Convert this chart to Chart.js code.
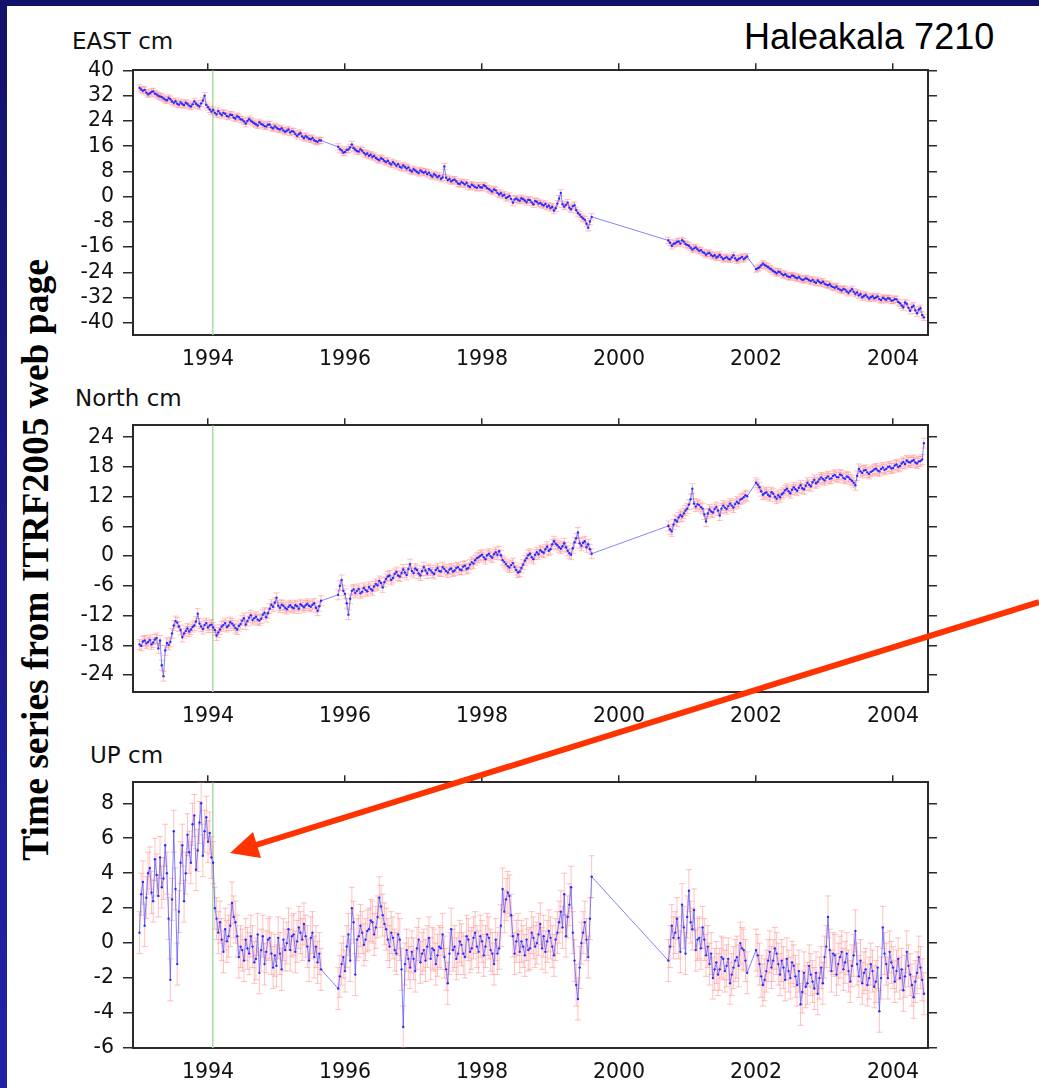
<!DOCTYPE html>
<html>
<head>
<meta charset="utf-8">
<script src="https://cdn.jsdelivr.net/npm/chart.js@4/dist/chart.umd.min.js"></script>
<style>
html,body{margin:0;padding:0;}
body{width:1039px;height:1088px;position:relative;overflow:hidden;background:linear-gradient(to bottom,#12126a,#2222a8);}
#panel{position:absolute;left:7px;top:6px;width:1032px;height:1082px;background:#fff;}
canvas{position:absolute;}
.ttl{position:absolute;font-family:"DejaVu Sans";font-size:23px;line-height:23px;color:#111;white-space:nowrap;}
#station{position:absolute;left:744px;top:19px;font-family:"Liberation Sans";font-size:36px;line-height:36px;color:#000;white-space:nowrap;}
#side{position:absolute;left:36px;top:560px;transform:translate(-50%,-50%) rotate(-90deg);font-family:"Liberation Serif";font-weight:bold;font-size:37.5px;line-height:37.5px;white-space:nowrap;color:#000;}
#arrow{position:absolute;left:0;top:0;}
#msg{position:absolute;left:300px;top:10px;color:red;font:14px sans-serif;}
</style>
</head>
<body>
<div id="panel"></div>
<div id="station">Haleakala 7210</div>
<div id="side">Time series from ITRF2005 web page</div>
<div class="ttl" style="left:72px;top:30px;">EAST cm</div>
<div class="ttl" style="left:75px;top:387px;">North cm</div>
<div class="ttl" style="left:90px;top:744px;">UP cm</div>
<canvas id="cEast" width="880" height="326" style="left:60px;top:49px;"></canvas>
<canvas id="cNorth" width="880" height="328" style="left:60px;top:404px;"></canvas>
<canvas id="cUp" width="880" height="327" style="left:60px;top:761px;"></canvas>
<svg id="arrow" width="1039" height="1088">
  <line x1="1039" y1="602" x2="256" y2="845" stroke="#ff3300" stroke-width="6"/>
  <polygon points="230,853 253,832 261,858" fill="#ff3300"/>
</svg>
<div id="msg"></div>
<script>
// ---- epochs (decimal years), shared by all three components ----
const times = [
1993,1993.025,1993.05,1993.075,1993.1,1993.125,1993.15,1993.175,1993.2,1993.225,
1993.25,1993.275,1993.3,1993.325,1993.35,1993.375,1993.4,1993.425,1993.45,1993.475,
1993.5,1993.525,1993.55,1993.575,1993.6,1993.625,1993.65,1993.675,1993.7,1993.725,
1993.75,1993.775,1993.8,1993.825,1993.85,1993.875,1993.9,1993.925,1993.95,1993.975,
1994,1994.025,1994.05,1994.075,1994.1,1994.125,1994.15,1994.175,1994.2,1994.225,
1994.25,1994.275,1994.3,1994.325,1994.35,1994.375,1994.4,1994.425,1994.45,1994.475,
1994.5,1994.525,1994.55,1994.575,1994.6,1994.625,1994.65,1994.675,1994.7,1994.725,
1994.75,1994.775,1994.8,1994.825,1994.85,1994.875,1994.9,1994.925,1994.95,1994.975,
1995,1995.025,1995.05,1995.075,1995.1,1995.125,1995.15,1995.175,1995.2,1995.225,
1995.25,1995.275,1995.3,1995.325,1995.35,1995.375,1995.4,1995.425,1995.45,1995.475,
1995.5,1995.525,1995.55,1995.575,1995.6,1995.625,1995.65,
1995.9,1995.925,1995.95,1995.975,
1996,1996.025,1996.05,1996.075,1996.1,1996.125,1996.15,1996.175,1996.2,1996.225,
1996.25,1996.275,1996.3,1996.325,1996.35,1996.375,1996.4,1996.425,1996.45,1996.475,
1996.5,1996.525,1996.55,1996.575,1996.6,1996.625,1996.65,1996.675,1996.7,1996.725,
1996.75,1996.775,1996.8,1996.825,1996.85,1996.875,1996.9,1996.925,1996.95,1996.975,
1997,1997.025,1997.05,1997.075,1997.1,1997.125,1997.15,1997.175,1997.2,1997.225,
1997.25,1997.275,1997.3,1997.325,1997.35,1997.375,1997.4,1997.425,1997.45,1997.475,
1997.5,1997.525,1997.55,1997.575,1997.6,1997.625,1997.65,1997.675,1997.7,1997.725,
1997.75,1997.775,1997.8,1997.825,1997.85,1997.875,1997.9,1997.925,1997.95,1997.975,
1998,1998.025,1998.05,1998.075,1998.1,1998.125,1998.15,1998.175,1998.2,1998.225,
1998.25,1998.275,1998.3,1998.325,1998.35,1998.375,1998.4,1998.425,1998.45,1998.475,
1998.5,1998.525,1998.55,1998.575,1998.6,1998.625,1998.65,1998.675,1998.7,1998.725,
1998.75,1998.775,1998.8,1998.825,1998.85,1998.875,1998.9,1998.925,1998.95,1998.975,
1999,1999.025,1999.05,1999.075,1999.1,1999.125,1999.15,1999.175,1999.2,1999.225,
1999.25,1999.275,1999.3,1999.325,1999.35,1999.375,1999.4,1999.425,1999.45,1999.475,
1999.5,1999.525,1999.55,1999.575,1999.6,
2000.72,2000.745,2000.77,2000.795,2000.82,2000.845,2000.87,2000.895,2000.92,2000.945,
2000.97,2000.995,2001.02,2001.045,2001.07,2001.095,2001.12,2001.145,2001.17,2001.195,
2001.22,2001.245,2001.27,2001.295,2001.32,2001.345,2001.37,2001.395,2001.42,2001.445,
2001.47,2001.495,2001.52,2001.545,2001.57,2001.595,2001.62,2001.645,2001.67,2001.695,
2001.72,2001.745,2001.77,2001.795,2001.82,2001.845,2001.87,
2002,2002.025,2002.05,2002.075,2002.1,2002.125,2002.15,2002.175,2002.2,2002.225,
2002.25,2002.275,2002.3,2002.325,2002.35,2002.375,2002.4,2002.425,2002.45,2002.475,
2002.5,2002.525,2002.55,2002.575,2002.6,2002.625,2002.65,2002.675,2002.7,2002.725,
2002.75,2002.775,2002.8,2002.825,2002.85,2002.875,2002.9,2002.925,2002.95,2002.975,
2003,2003.025,2003.05,2003.075,2003.1,2003.125,2003.15,2003.175,2003.2,2003.225,
2003.25,2003.275,2003.3,2003.325,2003.35,2003.375,2003.4,2003.425,2003.45,2003.475,
2003.5,2003.525,2003.55,2003.575,2003.6,2003.625,2003.65,2003.675,2003.7,2003.725,
2003.75,2003.775,2003.8,2003.825,2003.85,2003.875,2003.9,2003.925,2003.95,2003.975,
2004,2004.025,2004.05,2004.075,2004.1,2004.125,2004.15,2004.175,2004.2,2004.225,
2004.25,2004.275,2004.3,2004.325,2004.35,2004.375,2004.4,2004.425,2004.45
];

// ---- EAST component, cm ----
const eastCm = [
34.5,34.0,33.6,33.9,33.0,32.5,32.8,33.2,33.4,32.7,32.4,32.0,31.8,31.6,31.2,30.8,30.6,31.3,30.9,30.2,
29.8,30.3,29.5,29.2,29.9,29.4,29.1,29.8,29.4,28.9,28.6,29.3,30.2,29.5,29.0,28.6,29.6,30.5,32.0,29.1,
28.4,27.7,27.0,27.5,26.6,26.1,27.2,26.4,25.9,26.6,26.3,25.6,25.4,26.0,25.9,25.1,24.8,25.5,25.2,24.6,
24.4,23.9,23.2,24.0,24.6,24.1,23.7,23.3,23.0,22.6,23.6,23.1,22.8,22.4,22.3,22.8,22.9,22.0,21.7,22.3,
21.9,21.5,21.3,21.7,21.0,20.6,20.9,21.3,20.4,20.8,20.6,19.9,19.3,19.8,20.2,19.1,18.6,19.2,18.8,18.4,
18.2,18.6,17.9,17.6,17.4,17.9,17.8,
15.8,15.1,14.7,14.0,14.2,14.8,15.0,15.6,16.6,15.4,14.9,14.5,14.3,15.0,14.6,13.9,13.4,13.7,13.0,13.3,
12.6,12.9,12.3,11.9,11.6,12.2,11.9,11.3,11.0,11.4,10.6,10.2,10.9,10.4,9.8,10.3,9.5,9.2,9.9,9.4,
8.9,9.3,8.4,8.0,8.7,8.3,7.9,7.5,8.3,7.9,7.6,7.9,7.2,7.6,6.8,6.4,7.1,6.7,6.2,6.6,
5.7,6.1,9.6,6.0,5.3,5.6,4.9,5.2,5.4,4.8,4.2,4.0,4.6,4.3,3.9,4.4,3.4,3.1,3.8,3.5,
3.1,2.8,3.5,3.0,2.9,3.6,3.3,2.7,2.4,2.0,1.6,2.3,2.0,1.2,0.7,1.1,0.3,0.6,-0.4,-0.1,
0.2,-0.7,-1.9,-0.9,-0.6,-1.0,-1.3,-0.5,-0.8,-1.2,-1.7,-1.0,-1.1,-1.8,-2.4,-1.4,-1.6,-2.2,-2.0,-2.5,
-2.8,-2.3,-3.2,-2.9,-3.6,-3.2,-4.4,-3.7,-2.2,-0.6,1.2,-2.4,-3.1,-2.6,-1.9,-3.5,-4.0,-3.0,-2.7,-4.3,
-5.2,-5.7,-6.4,-6.9,-7.3,-8.6,-9.9,-7.9,-6.4,
-13.9,-14.6,-15.6,-15.0,-14.8,-14.4,-14.2,-14.9,-13.8,-14.3,-15.0,-15.3,-15.6,-16.2,-16.8,-16.4,-16.1,-16.7,-17.2,-17.0,
-17.6,-17.9,-18.4,-18.0,-17.9,-18.5,-18.9,-18.6,-19.3,-19.0,-18.5,-19.2,-19.8,-19.5,-19.2,-19.7,-19.9,-19.3,-18.6,-19.6,
-20.2,-19.8,-19.5,-19.1,-19.8,-19.4,-19.0,
-23.0,-22.7,-22.4,-21.8,-21.3,-21.7,-22.0,-22.3,-22.8,-23.1,-23.6,-23.9,-24.3,-23.8,-24.0,-24.5,-24.9,-24.6,-25.1,-25.4,
-25.5,-25.0,-25.2,-25.6,-25.9,-25.5,-26.0,-26.4,-26.3,-25.9,-26.1,-26.5,-26.8,-26.4,-27.0,-27.3,-26.6,-27.1,-27.4,-27.0,
-27.6,-27.9,-28.1,-27.8,-28.4,-28.7,-28.9,-28.5,-29.2,-29.5,-29.8,-29.3,-29.5,-30.1,-30.5,-29.9,-29.4,-30.2,-30.8,-30.4,
-31.3,-30.9,-31.9,-31.5,-31.2,-31.8,-32.3,-31.9,-31.6,-32.2,-32.0,-31.7,-32.5,-32.8,-32.1,-32.4,-32.7,-32.2,-32.4,-33.0,
-32.9,-32.5,-32.6,-33.4,-33.8,-34.5,-35.1,-33.6,-34.0,-35.3,-36.2,-35.0,-34.6,-36.1,-37.0,-35.8,-35.4,-37.6,-38.3
];

// ---- North component, cm ----
const northCm = [
-17.8,-18.1,-17.2,-17.0,-17.6,-17.3,-16.9,-17.8,-17.4,-16.8,-16.5,-18.6,-17.0,-22.0,-24.2,-19.0,-17.5,-17.9,-17.3,-15.6,
-14.0,-13.1,-13.4,-14.2,-14.9,-16.3,-15.6,-15.1,-14.6,-15.2,-14.8,-14.3,-14.0,-13.2,-11.6,-13.6,-14.2,-14.7,-13.9,-13.5,
-14.4,-14.0,-13.8,-14.4,-14.9,-16.0,-15.4,-14.8,-14.2,-13.9,-13.5,-14.3,-14.0,-13.3,-13.6,-14.0,-14.5,-14.8,-14.1,-13.7,
-13.0,-12.5,-13.8,-13.1,-12.4,-11.9,-12.9,-12.5,-12.2,-12.8,-13.0,-12.6,-11.8,-11.4,-12.3,-11.5,-10.6,-9.8,-10.2,-9.4,
-8.4,-10.0,-10.4,-9.8,-10.0,-10.4,-10.7,-10.2,-9.9,-10.3,-10.5,-9.9,-10.1,-10.6,-9.7,-10.0,-10.3,-9.9,-9.6,-10.0,
-10.2,-9.8,-9.5,-10.4,-11.0,-10.1,-9.0,
-7.8,-6.0,-4.8,-7.0,-7.6,-9.5,-11.8,-8.6,-7.0,-6.7,-7.4,-7.0,-6.6,-7.5,-7.2,-6.4,-6.8,-7.1,-6.2,-6.6,
-6.9,-6.1,-5.6,-5.9,-5.0,-5.4,-6.3,-5.2,-4.6,-4.1,-3.9,-4.8,-4.4,-3.6,-3.2,-3.9,-4.1,-3.4,-2.7,-3.3,
-3.8,-2.6,-1.6,-3.0,-3.4,-2.5,-2.8,-3.5,-3.9,-3.0,-2.2,-2.9,-3.5,-2.6,-2.9,-3.3,-3.6,-2.8,-2.4,-3.0,
-3.1,-2.2,-2.6,-3.0,-3.3,-2.7,-2.5,-3.1,-2.9,-2.4,-2.2,-2.7,-2.8,-2.1,-1.9,-2.6,-2.4,-1.7,-1.2,-1.5,
-0.8,-0.4,-0.2,0.1,0.3,-0.2,-0.6,0.2,0.5,0.0,-0.3,0.4,0.8,0.3,1.0,0.2,-0.8,-1.2,-1.6,-2.0,
-2.3,-1.8,-1.4,-2.2,-2.8,-3.3,-3.1,-2.4,-1.7,-0.9,-0.4,0.2,0.5,-0.2,-0.6,0.3,0.8,0.4,1.2,0.9,
0.7,1.4,1.9,1.1,1.4,2.4,3.0,2.5,2.2,1.8,1.5,2.0,2.6,1.8,1.1,0.6,0.3,1.6,2.8,3.6,
4.8,2.6,2.1,2.7,3.0,1.8,2.4,1.4,0.5,
6.1,5.4,5.0,6.4,7.3,7.0,7.8,8.3,8.0,8.6,9.2,9.6,10.4,11.5,13.6,10.6,10.0,10.5,10.3,9.9,
9.6,8.4,7.0,8.6,9.4,9.0,8.8,9.5,9.9,9.2,8.2,9.6,10.2,9.8,9.5,10.1,10.6,10.2,9.8,10.5,
11.0,10.7,11.4,11.6,11.9,12.3,12.1,
14.8,14.4,13.9,13.1,12.4,12.7,12.9,12.4,12.1,12.9,12.6,12.0,11.6,12.3,11.9,12.5,12.8,13.3,13.6,13.1,
12.7,13.4,13.9,13.5,13.2,13.8,14.3,13.7,13.5,14.2,14.8,14.4,14.1,14.9,15.4,14.7,15.0,15.5,15.9,15.6,
15.3,15.8,16.1,15.6,15.7,16.2,16.4,16.0,15.9,16.5,16.3,15.8,15.6,16.1,15.9,15.5,15.2,14.8,14.3,16.2,
17.6,17.1,16.8,17.3,17.4,16.9,16.6,17.0,17.2,17.5,17.7,17.3,17.1,17.6,17.9,17.4,17.6,18.0,18.1,17.7,
17.8,18.3,18.5,18.0,18.2,18.7,19.0,18.6,19.3,19.0,18.9,19.2,19.4,18.9,18.7,19.1,19.2,19.5,22.8
];

// ---- UP component, cm ----
const upCm = [
0.6,2.8,3.5,1.0,2.6,4.0,4.3,2.9,2.4,4.8,3.9,2.7,4.9,3.2,3.7,5.6,4.0,1.4,-2.1,2.5,
6.4,3.1,-1.2,1.8,4.6,5.6,2.4,4.0,6.2,5.2,4.6,6.8,7.3,4.2,5.3,6.9,8.0,5.0,6.4,7.2,
5.8,6.3,4.9,4.6,2.0,1.4,0.6,1.2,0.2,-0.5,0.8,0.1,0.4,1.0,2.3,1.5,1.2,0.4,-0.8,-0.2,
-0.4,-1.0,0.2,-0.3,-0.6,0.4,-0.2,-1.1,-0.9,0.5,-1.7,-0.4,0.4,-1.2,-0.5,0.2,0.3,-0.6,-1.4,-0.7,
-1.3,0.3,-0.6,-1.5,0.2,-0.4,0.0,0.8,-0.4,0.4,0.5,-0.5,0.1,0.9,0.6,0.2,1.1,0.4,-0.2,-1.0,
0.3,0.6,-0.8,-0.2,-1.1,-0.6,-1.5,
-2.6,-1.9,-1.2,-0.8,-1.6,-0.2,0.5,-1.0,2.0,1.2,-1.8,0.2,0.4,1.0,0.6,-0.1,0.2,0.7,0.8,1.3,
1.2,0.5,0.9,1.5,2.6,2.1,1.6,1.1,0.8,0.2,-0.2,0.6,0.3,-0.4,-0.6,0.5,0.2,-1.5,-4.8,-1.2,
-0.4,-0.9,-1.4,-0.5,-0.9,-1.6,-0.3,0.2,-1.1,-0.6,-0.4,-1.0,-0.2,0.3,-0.9,-0.3,-0.4,-1.2,-0.7,-0.2,
-0.3,0.5,-0.8,-1.5,-2.3,-0.6,0.8,-0.4,-0.2,-0.9,-0.6,0.1,-0.1,-0.6,-0.8,0.4,0.2,-0.5,-0.3,0.3,
0.6,-0.2,-0.5,0.4,0.1,-0.7,-0.2,0.5,0.3,-0.4,-0.6,-1.2,0.2,-0.6,-0.3,1.0,3.1,1.8,2.5,2.9,
2.7,1.6,0.4,-0.6,0.1,0.5,-0.5,0.1,-0.2,-0.7,0.2,-0.4,-0.3,0.6,0.3,-0.2,0.0,0.5,1.1,-0.3,
0.4,-0.5,0.1,0.7,0.3,-0.2,-0.7,0.2,0.6,1.2,1.8,0.9,2.8,0.4,1.5,2.2,3.2,0.6,-1.0,-2.4,
-3.2,-1.4,0.0,0.6,1.2,0.2,-0.8,1.4,3.8,
-1.0,-0.2,1.0,0.3,0.6,1.4,0.3,-0.5,2.2,0.9,-0.6,1.5,3.0,1.2,0.8,1.9,-0.4,0.2,0.3,-0.3,
0.9,0.2,-0.7,-0.2,-1.2,-0.6,-2.0,-1.5,-1.1,-1.8,-1.5,-0.8,-0.9,-1.6,-1.3,-0.9,-2.3,-1.8,-1.4,-1.0,
-0.8,-1.3,0.0,-0.3,-0.4,-1.0,-1.7,
-0.4,-0.7,-1.2,-1.9,-2.4,-2.1,-1.6,-1.0,-0.5,-1.4,-1.0,-0.3,-0.6,-1.2,-1.8,-1.0,-1.4,-2.1,-0.9,-1.6,
-2.0,-1.1,-1.3,-1.9,-2.4,-1.6,-3.5,-2.8,-1.7,-2.5,-2.3,-1.3,-1.8,-2.2,-2.6,-1.7,-2.9,-2.0,-1.4,-2.3,
-0.8,-0.2,1.5,-0.4,-1.6,-0.6,-0.7,-1.8,-1.2,-0.8,-0.5,-1.5,-1.1,-0.6,-1.6,-2.2,-1.3,-0.7,0.7,-1.2,
-1.9,-1.0,-2.3,-1.7,-1.5,-2.4,-2.0,-1.2,-1.6,-2.5,-2.2,-1.4,-3.9,-2.0,0.9,-0.6,-1.2,-2.0,-0.5,-1.1,
-1.4,-2.2,-1.6,-0.9,-2.0,-1.5,-2.7,-1.9,-0.5,-1.3,-1.8,-2.4,-3.1,-2.2,-1.7,-0.8,-1.4,-2.1,-2.9
];

// ---- formal errors (1 sigma, cm) ----
const eastSigma = 1.0;
const northSigma = 1.0;
const upSigma = 1.2;

// ---- axes ----
const yearTicks = [1994, 1996, 1998, 2000, 2002, 2004];
const eastTicks = [-40, -32, -24, -16, -8, 0, 8, 16, 24, 32, 40];
const northTicks = [-24, -18, -12, -6, 0, 6, 12, 18, 24];
const upTicks = [-6, -4, -2, 0, 2, 4, 6, 8];
const markerYear = 1994.07;

const X_MIN = 1992.905, X_MAX = 2004.51;

const msgs = [];
[['eastCm', eastCm], ['northCm', northCm], ['upCm', upCm]].forEach(([n, a]) => {
  if (a.length !== times.length) msgs.push(n + ' ' + a.length + ' vs ' + times.length);
});
document.getElementById('msg').textContent = msgs.join(' | ');

const tickFont = { family: 'DejaVu Sans', size: 20.5 };
const AXIS = '#2a2a2a';

const errPlugin = {
  id: 'errbars',
  beforeDatasetsDraw(chart) {
    const { ctx, chartArea: a, scales: { x, y } } = chart;
    ctx.save();
    ctx.beginPath();
    ctx.rect(a.left, a.top, a.right - a.left, a.bottom - a.top);
    ctx.clip();
    const gx = x.getPixelForValue(markerYear);
    ctx.strokeStyle = '#a9dca9';
    ctx.lineWidth = 1.5;
    ctx.beginPath(); ctx.moveTo(gx, a.top); ctx.lineTo(gx, a.bottom); ctx.stroke();
    chart.data.datasets.forEach(ds => {
      ctx.strokeStyle = 'rgba(255,110,110,0.42)';
      ctx.lineWidth = 1;
      ds.data.forEach(p => {
        const px = x.getPixelForValue(p.x);
        const y1 = y.getPixelForValue(p.y + ds.sigma);
        const y2 = y.getPixelForValue(p.y - ds.sigma);
        ctx.beginPath();
        ctx.moveTo(px, y1); ctx.lineTo(px, y2);
        ctx.moveTo(px - 3, y1); ctx.lineTo(px + 3, y1);
        ctx.moveTo(px - 3, y2); ctx.lineTo(px + 3, y2);
        ctx.stroke();
      });
    });
    ctx.restore();
  }
};

function setTicks(arr) { return s => { s.ticks = arr.map(v => ({ value: v })); }; }

function makeChart(id, values, sigma, yTicks, yMin, yMax) {
  const data = times.map((t, i) => ({ x: t, y: values[i] }));
  const border = { display: true, color: AXIS, width: 2 };
  return new Chart(document.getElementById(id), {
    type: 'line',
    data: {
      datasets: [{
        data, sigma,
        borderColor: 'rgba(90,90,255,0.75)',
        borderWidth: 1,
        pointRadius: 1.2,
        pointBackgroundColor: '#2b2bff',
        pointBorderWidth: 0,
        tension: 0
      }]
    },
    options: {
      responsive: false, animation: false, devicePixelRatio: 1,
      layout: { padding: 0 },
      plugins: { legend: { display: false }, tooltip: { enabled: false } },
      scales: {
        x: {
          type: 'linear', position: 'bottom', min: X_MIN, max: X_MAX,
          afterBuildTicks: setTicks(yearTicks),
          afterFit: s => { s.height = 40; },
          grid: { display: false, drawTicks: false },
          border,
          ticks: { font: tickFont, color: '#111', padding: 12, maxRotation: 0, autoSkip: false, callback: v => String(v) }
        },
        x2: {
          type: 'linear', position: 'top', min: X_MIN, max: X_MAX,
          afterBuildTicks: setTicks(yearTicks),
          afterFit: s => { s.height = 20; },
          grid: { display: true, drawOnChartArea: false, drawTicks: true, tickLength: 7, color: AXIS, lineWidth: 1.5 },
          border,
          ticks: { display: false }
        },
        y: {
          type: 'linear', position: 'left', min: yMin, max: yMax,
          afterBuildTicks: setTicks(yTicks),
          afterFit: s => { s.width = 73; },
          grid: { display: true, drawOnChartArea: false, drawTicks: true, tickLength: 10, color: AXIS, lineWidth: 1.5 },
          border,
          ticks: { font: tickFont, color: '#111', padding: 9, autoSkip: false, callback: v => String(v) }
        },
        y2: {
          type: 'linear', position: 'right', min: yMin, max: yMax,
          afterBuildTicks: setTicks(yTicks),
          afterFit: s => { s.width = 12; },
          grid: { display: true, drawOnChartArea: false, drawTicks: true, tickLength: 9, color: AXIS, lineWidth: 1.5 },
          border,
          ticks: { display: false }
        }
      }
    },
    plugins: [errPlugin]
  });
}

makeChart('cEast', eastCm, eastSigma, eastTicks, -43.9, 40.1);
makeChart('cNorth', northCm, northSigma, northTicks, -27.4, 26.4);
makeChart('cUp', upCm, upSigma, upTicks, -6, 9.2);
</script>
</body>
</html>
